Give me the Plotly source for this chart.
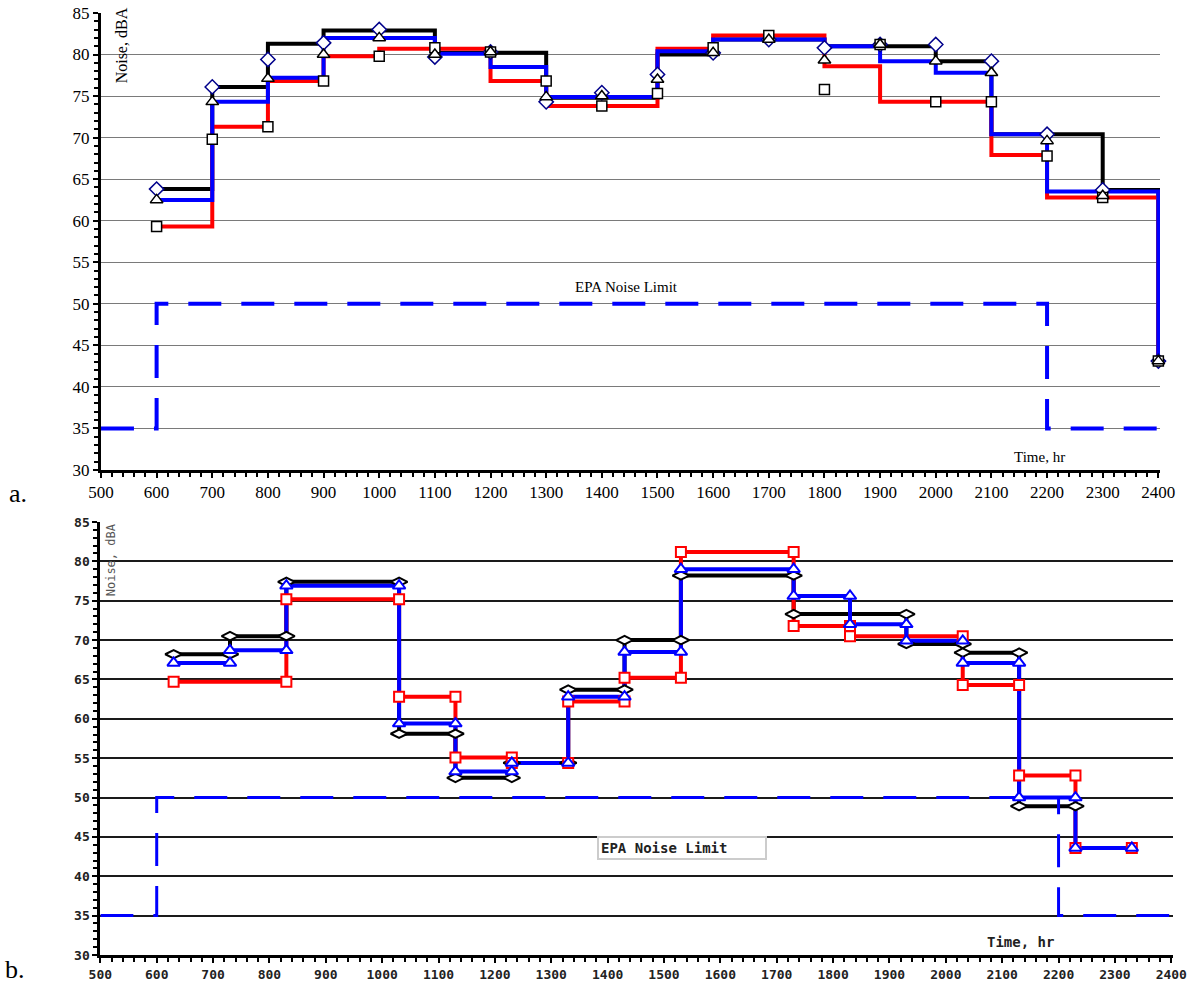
import plotly.graph_objects as go

# ---------------- Data: panel a ----------------
a_hours = [600, 700, 800, 900, 1000, 1100, 1200, 1300, 1400, 1500, 1600,
           1700, 1800, 1900, 2000, 2100, 2200, 2300, 2400]
a_end_value = 43.1
a_black_levels = [63.8, 76.1, 81.3, 82.9, 82.9, 80.2, 80.2, 74.8, 74.8, 80.0,
                  81.8, 81.8, 81.0, 81.0, 79.2, 70.4, 70.4, 63.7]
a_blue_levels = [62.5, 74.3, 77.2, 82.0, 82.0, 80.1, 78.5, 74.9, 74.9, 80.4,
                 81.8, 81.8, 81.0, 79.2, 77.8, 70.4, 63.5, 63.5]
a_red_levels = [59.3, 71.3, 76.8, 79.8, 80.7, 80.7, 76.8, 73.8, 73.8, 80.7,
                82.3, 82.3, 78.6, 74.3, 74.3, 67.9, 62.8, 62.8]
a_diamonds = [63.8, 76.1, 79.4, 81.4, 83.0, 79.7, 80.3, 74.3, 75.4, 77.6,
              80.2, 81.8, 80.8, 81.2, 81.2, 79.2, 70.4, 63.7, 43.1]
a_triangles = [62.5, 74.3, 77.1, 80.0, 82.0, 80.0, 80.3, 74.9, 75.0, 77.0,
               80.2, 81.8, 79.3, 81.2, 79.2, 77.8, 69.6, 63.0, 43.1]
a_squares = [59.3, 69.8, 71.3, 76.8, 79.8, 80.8, 80.3, 76.8, 73.8, 75.3,
             80.8, 82.3, 75.8, 81.2, 74.3, 74.3, 67.8, 62.8, 43.1]

# ---------------- Data: panel b ----------------
b_black_breaks = [630, 730, 830, 1030, 1130, 1230, 1330, 1430, 1530, 1730, 1930,
                  2030, 2130, 2230]
b_black_levels = [68.2, 70.5, 77.4, 58.1, 52.5, 54.4, 63.7, 70.0, 78.2, 73.3,
                  69.5, 68.4, 48.9]
b_blue_breaks = [630, 730, 830, 1030, 1130, 1230, 1330, 1430, 1530, 1730, 1830,
                 1930, 2030, 2130, 2230, 2330]
b_blue_levels = [67.1, 68.7, 76.9, 59.4, 53.3, 54.4, 62.8, 68.5, 79.0, 75.6,
                 72.0, 69.9, 67.1, 50.0, 43.6]
b_red_breaks = [630, 830, 1030, 1130, 1230, 1330, 1430, 1530, 1730, 1830, 2030,
                2130, 2230, 2330]
b_red_levels = [64.7, 75.2, 62.8, 55.1, 54.4, 62.2, 65.2, 81.2, 71.8, 70.5,
                64.3, 52.8, 43.6]

# EPA noise limit
epa_x = [500, 600, 600, 2200, 2200, 2400]
epa_y = [35, 35, 50, 50, 35, 35]

y_ticks = list(range(30, 90, 5))
x_ticks = list(range(500, 2500, 100))


def step_poly(breaks, levels):
    xs, ys = [], []
    for i, lv in enumerate(levels):
        xs += [breaks[i], breaks[i + 1]]
        ys += [lv, lv]
    return xs, ys


fig = go.Figure()

# ---------- panel a ----------
serif = "Liberation Serif"
for lv, col in [(a_black_levels, "black"), (a_red_levels, "#ff0000"), (a_blue_levels, "#0000ff")]:
    xs, ys = step_poly(a_hours, lv)
    xs.append(a_hours[-1]); ys.append(a_end_value)
    fig.add_trace(go.Scatter(x=xs, y=ys, mode="lines", line=dict(color=col, width=4),
                             xaxis="x", yaxis="y", showlegend=False, hoverinfo="skip"))

fig.add_trace(go.Scatter(x=epa_x, y=epa_y, mode="lines",
                         line=dict(color="#0000ff", width=4, dash="33px,20px"),
                         xaxis="x", yaxis="y", showlegend=False))

for vals, sym, lc, sz in [(a_diamonds, "diamond", "#00008b", 11),
                          (a_squares, "square", "black", 10),
                          (a_triangles, "triangle-up", "black", 11)]:
    fig.add_trace(go.Scatter(x=a_hours, y=vals, mode="markers", cliponaxis=False,
                             marker=dict(symbol=sym, size=sz, color="white",
                                         line=dict(color=lc, width=1.5)),
                             xaxis="x", yaxis="y", showlegend=False))

# ---------- panel b ----------
mono = "DejaVu Sans Mono"
b_series = [(b_black_breaks, b_black_levels, "black", "diamond-wide", 12),
            (b_red_breaks, b_red_levels, "#ff0000", "square", 10),
            (b_blue_breaks, b_blue_levels, "#0000ff", "triangle-up", 11)]
for br, lv, col, sym, sz in b_series:
    xs, ys = step_poly(br, lv)
    fig.add_trace(go.Scatter(x=xs, y=ys, mode="lines", line=dict(color=col, width=4),
                             xaxis="x2", yaxis="y2", showlegend=False, hoverinfo="skip"))

fig.add_trace(go.Scatter(x=epa_x, y=epa_y, mode="lines",
                         line=dict(color="#0000ff", width=3, dash="33px,20px"),
                         xaxis="x2", yaxis="y2", showlegend=False))

for br, lv, col, sym, sz in b_series:
    xs, ys = step_poly(br, lv)
    fig.add_trace(go.Scatter(x=xs, y=ys, mode="markers", cliponaxis=False,
                             marker=dict(symbol=sym, size=sz, color="white",
                                         line=dict(color=col, width=2)),
                             xaxis="x2", yaxis="y2", showlegend=False))

common_x = dict(range=[500, 2403], tickmode="array", tickvals=x_ticks, automargin=False,
                showgrid=False, zeroline=False, showline=True, linecolor="black",
                ticks="outside", tickcolor="black", ticklen=5, tickwidth=2,
                minor=dict(dtick=20, ticks="outside", ticklen=4, tickcolor="black", tickwidth=1.5))
common_y = dict(range=[30, 85], tickmode="array", tickvals=y_ticks, automargin=False,
                showgrid=True, zeroline=False, showline=True, linecolor="black",
                ticks="outside", tickcolor="black", ticklen=5, tickwidth=2,
                minor=dict(dtick=1, ticks="outside", ticklen=4, tickcolor="black", tickwidth=1.5,
                           showgrid=False))

fig.update_layout(
    width=1199, height=989, autosize=False,
    margin=dict(l=0, r=0, t=0, b=0, pad=0, autoexpand=False),
    paper_bgcolor="white", plot_bgcolor="white",
    xaxis=dict(domain=[0.0842, 0.9675], anchor="y", linewidth=3,
               tickfont=dict(family=serif, size=17, color="black"), **common_x),
    yaxis=dict(domain=[0.5248, 0.9869], anchor="x", linewidth=3, gridcolor="#7a7a7a",
               gridwidth=1, tickfont=dict(family=serif, size=17, color="black"), **common_y),
    xaxis2=dict(domain=[0.0837, 0.9783], anchor="y2", linewidth=3,
                tickfont=dict(family=mono, size=13, color="#222", weight="bold"), **common_x),
    yaxis2=dict(domain=[0.0344, 0.4722], anchor="x2", linewidth=3, gridcolor="#1a1a1a",
                gridwidth=2, tickfont=dict(family=mono, size=13, color="#222", weight="bold"),
                **common_y),
)

ann = [
    dict(text="Noise, dBA", x=536, y=81.1, xref="x", yref="y", textangle=-90,
         showarrow=False, font=dict(family=serif, size=16, color="black")),
    dict(text="EPA Noise Limit", x=1445, y=52.0, xref="x", yref="y",
         showarrow=False, font=dict(family=serif, size=15, color="black")),
    dict(text="Time, hr", x=2186, y=31.6, xref="x", yref="y",
         showarrow=False, font=dict(family=serif, size=15, color="black")),
    dict(text="Noise, dBA", x=518, y=80.2, xref="x2", yref="y2", textangle=-90,
         showarrow=False, font=dict(family=mono, size=12, color="#555")),
    dict(text="EPA Noise Limit", x=1532, y=43.6, xref="x2", yref="y2", width=162,
         align="left", showarrow=False, bgcolor="white", bordercolor="#cccccc",
         borderwidth=2, borderpad=2,
         font=dict(family=mono, size=14, color="#222", weight="bold")),
    dict(text="Time, hr", x=2132, y=31.7, xref="x2", yref="y2",
         showarrow=False, font=dict(family=mono, size=14, color="#222", weight="bold")),
    dict(text="a.", x=0.015, y=0.5015, xref="paper", yref="paper",
         xanchor="center", yanchor="middle",
         showarrow=False, font=dict(family=serif, size=26, color="black")),
    dict(text="b.", x=0.0125, y=0.0195, xref="paper", yref="paper",
         xanchor="center", yanchor="middle",
         showarrow=False, font=dict(family=serif, size=26, color="black")),
]
fig.update_layout(annotations=ann)

fig.write_html("out.html", config={"displayModeBar": False},
               post_script="document.body.style.margin='0';document.body.style.padding='0';")
